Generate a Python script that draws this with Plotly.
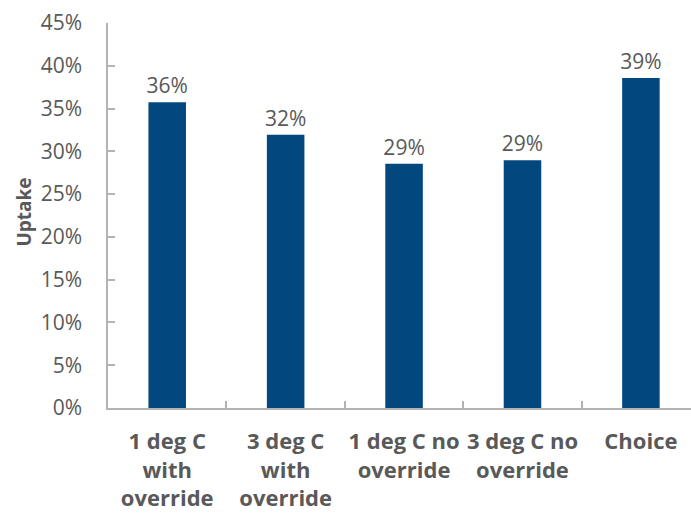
import plotly.graph_objects as go

categories = [
    "1 deg C<br>with<br>override",
    "3 deg C<br>with<br>override",
    "1 deg C no<br>override",
    "3 deg C no<br>override",
    "Choice",
]
uptake = [0.3573, 0.3195, 0.2856, 0.2895, 0.3857]
y_ticks = [i * 0.05 for i in range(10)]

BAR_COLOR = "#03477f"
TEXT_COLOR = "#595959"
AXIS_COLOR = "#b3b3b3"
FONT = "Open Sans"

fig = go.Figure(
    go.Bar(
        x=categories,
        y=uptake,
        width=0.317,
        marker=dict(color=BAR_COLOR, line=dict(width=0)),
        texttemplate="%{y:.0%}",
        textposition="outside",
        constraintext="none",
        textfont=dict(family=FONT, size=21, color=TEXT_COLOR),
        cliponaxis=False,
    )
)

fig.update_layout(
    width=691,
    height=514,
    margin=dict(l=108, r=0, t=23, b=106, autoexpand=False),
    plot_bgcolor="white",
    paper_bgcolor="white",
    showlegend=False,
    font=dict(family=FONT, color=TEXT_COLOR),
    uniformtext=dict(minsize=21, mode="show"),
    xaxis=dict(
        range=[-0.5, 4.423],
        showline=True,
        linecolor=AXIS_COLOR,
        linewidth=1.5,
        ticks="inside",
        tickson="boundaries",
        ticklen=7,
        tickcolor=AXIS_COLOR,
        tickwidth=1.5,
        showgrid=False,
        tickangle=0,
        automargin=False,
        tickfont=dict(family=FONT, size=22, color=TEXT_COLOR, weight="bold"),
        ticklabelstandoff=13,
        fixedrange=True,
    ),
    yaxis=dict(
        range=[0, 0.45],
        tickvals=y_ticks,
        tickformat=".0%",
        showline=True,
        linecolor=AXIS_COLOR,
        linewidth=1.5,
        ticks="inside",
        ticklen=7,
        tickcolor=AXIS_COLOR,
        tickwidth=1.5,
        showgrid=False,
        zeroline=False,
        automargin=False,
        tickfont=dict(family=FONT, size=21, color=TEXT_COLOR),
        ticklabelstandoff=20,
        fixedrange=True,
    ),
    annotations=[
        dict(
            text="<b>Uptake</b>",
            textangle=-90,
            xref="paper",
            yref="paper",
            x=-84 / 582.7,
            y=0.51,
            xanchor="center",
            yanchor="middle",
            showarrow=False,
            font=dict(family=FONT, size=19, color=TEXT_COLOR),
        )
    ],
)

fig.write_html("out.html")
